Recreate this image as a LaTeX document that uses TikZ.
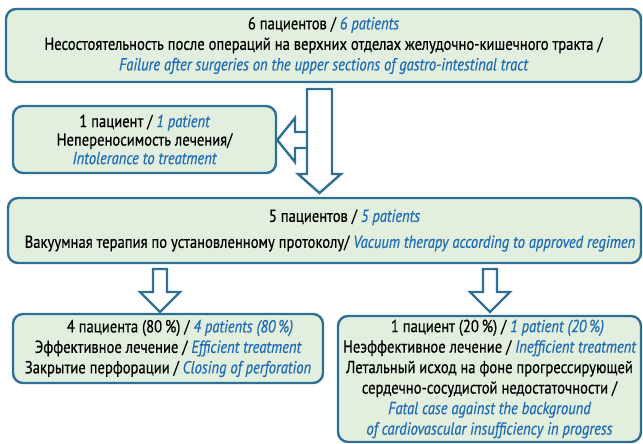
\documentclass[tikz,border=0pt]{standalone}
\usepackage{fontspec}
\setmainfont{PT Sans}[FakeStretch=0.84,FakeBold=0.5]
\usetikzlibrary{positioning}
\definecolor{bord}{RGB}{46,111,150}
\definecolor{boxfill}{RGB}{226,239,223}
\definecolor{entext}{RGB}{31,107,181}
\newcommand{\en}[1]{\textcolor{entext}{\itshape #1}}
\tikzset{
  box/.style={draw=bord, line width=2.4pt, fill=boxfill, rounded corners=10pt,
    align=center, inner sep=0pt, font=\fontsize{17.4}{20.5}\selectfont},
  blockarrow/.style={draw=bord, line width=2.4pt, fill=white, line join=miter},
}
\begin{document}
\begin{tikzpicture}[x=1pt,y=-1pt]
\useasboundingbox (0,0) rectangle (643,444);
% boxes
\node[box, minimum width=635, minimum height=73] (top) at (323.5,45.5)
  {6 пациентов / \en{6 patients}\\
   Несостоятельность после операций на верхних отделах желудочно-кишечного тракта /\\
   \en{Failure after surgeries on the upper sections of gastro-intestinal tract}};
\node[box, minimum width=263, minimum height=67, font=\fontsize{17.4}{18.5}\selectfont] (intol) at (144.5,139.5)
  {1 пациент / \en{1 patient}\\
   Непереносимость лечения/\\
   \en{Intolerance to treatment}};
\node[box, minimum width=633, minimum height=65] (mid) at (324.5,230.5)
  {\hspace*{40pt}5 пациентов / \en{5 patients}\\[5.5pt]
   \hspace*{11pt}Вакуумная терапия по установленному протоколу/ \en{Vacuum therapy according to approved regimen}};
\node[box, minimum width=310, minimum height=69] (eff) at (168,348.5)
  {\hspace*{24pt}4 пациента (80\,\%) / \en{4 patients (80\,\%)}\\
   Эффективное лечение / \en{Efficient treatment}\\
   Закрытие перфорации / \en{Closing of perforation}};
\node[box, minimum width=303, minimum height=126] (ineff) at (489.5,379)
  {\hspace*{16pt}1 пациент (20\,\%) / \en{1 patient (20\,\%)}\\
   Неэффективное лечение / \en{Inefficient treatment}\\
   Летальный исход на фоне прогрессирующей\\
   сердечно-сосудистой недостаточности /\\
   \en{Fatal case against the background}\\
   \en{of cardiovascular insufficiency in progress}};
% left block arrow (towards intolerance box)
\draw[blockarrow] (307,132) -- (295,132) -- (295,118) -- (intol.east |- 0,140) -- (295,162) -- (295,148) -- (307,148);
% main vertical block arrow
\draw[blockarrow] (307,89) -- (332,89) -- (332,174) -- (341,174) -- (319.5,193) -- (298,174) -- (307,174) -- cycle;
% lower block arrows
\draw[blockarrow] (153,269) -- (167,269) -- (167,292) -- (180,292) -- (160,312) -- (140,292) -- (153,292) -- cycle;
\draw[blockarrow] (483,269) -- (497,269) -- (497,292) -- (510,292) -- (490,312) -- (470,292) -- (483,292) -- cycle;
\end{tikzpicture}
\end{document}
